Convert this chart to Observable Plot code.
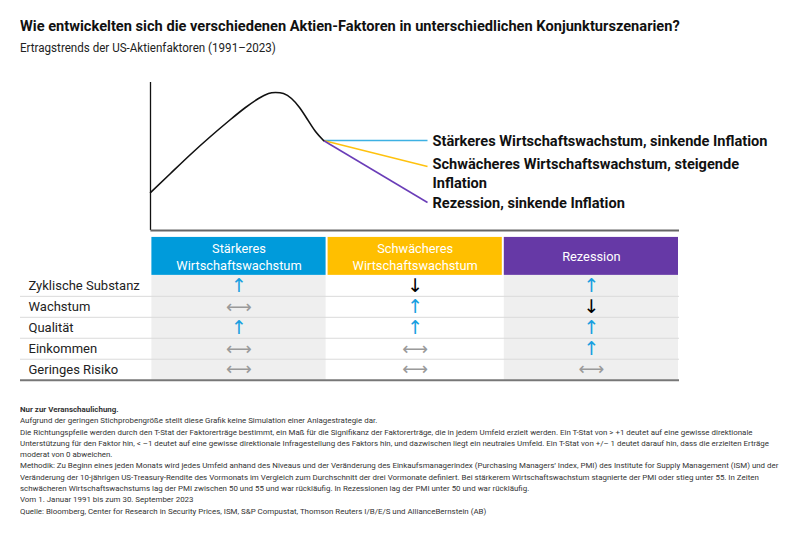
<!DOCTYPE html>
<html><head><meta charset="utf-8">
<script src="https://cdn.jsdelivr.net/npm/d3@7"></script>
<script src="https://cdn.jsdelivr.net/npm/@observablehq/plot@0.6"></script>
<style>
body{margin:0;background:#fff;font-family:Roboto,"Noto Sans",sans-serif;color:#111;width:791px;height:535px;overflow:hidden;position:relative}
.fit{position:absolute;left:20px;white-space:nowrap;transform-origin:0 0}
#title{top:17px;font-weight:700;font-size:15px;line-height:18px}
#subtitle{top:40px;font-size:12.5px;line-height:16px;color:#222}
#curve{position:absolute;left:0;top:70px}
#table{position:absolute;left:0;top:228px}
#notes{position:absolute;left:20px;top:404px;font-size:7.5px;line-height:11.3px;color:#333;white-space:nowrap;transform-origin:0 0}
#notes div{height:11.3px}
svg{overflow:visible}
</style></head>
<body>
<div id="title" class="fit">Wie entwickelten sich die verschiedenen Aktien-Faktoren in unterschiedlichen Konjunkturszenarien?</div>
<div id="subtitle" class="fit">Ertragstrends der US-Aktienfaktoren (1991–2023)</div>
<div id="curve"></div>
<div id="table"></div>
<div id="notes"></div>
<script>
// ---------- data ----------
const curveX = [0, 20, 40, 60, 80, 95, 108, 118, 125, 133, 141, 149, 157, 165, 173];
const curveY = [38, 57, 76, 94, 111, 123, 132, 137, 138, 137, 132, 123, 111, 99, 90];
const scenarioLabels = ["Stärkeres Wirtschaftswachstum, sinkende Inflation", "Schwächeres Wirtschaftswachstum, steigende\nInflation", "Rezession, sinkende Inflation"];
const scenarioEndY = [90, 64, 28];
const scenarioEndX = 277;
const scenarioColors = ["#3db1e3", "#ffc20e", "#6a3db8"];

const columns = ["Stärkeres\nWirtschaftswachstum", "Schwächeres\nWirtschaftswachstum", "Rezession"];
const columnColors = ["#009bdb", "#ffbf00", "#6639a6"];
const columnBg = ["#efefef", "#ffffff", "#efefef"];
const factors = ["Zyklische Substanz", "Wachstum", "Qualität", "Einkommen", "Geringes Risiko"];
const signals = [
  ["up", "down", "up"],
  ["flat", "up", "down"],
  ["up", "up", "up"],
  ["flat", "flat", "up"],
  ["flat", "flat", "flat"]
];
const notes = [
  "Nur zur Veranschaulichung.",
  "Aufgrund der geringen Stichprobengröße stellt diese Grafik keine Simulation einer Anlagestrategie dar.",
  "Die Richtungspfeile werden durch den T-Stat der Faktorerträge bestimmt, ein Maß für die Signifikanz der Faktorerträge, die in jedem Umfeld erzielt werden. Ein T-Stat von > +1 deutet auf eine gewisse direktionale",
  "Unterstützung für den Faktor hin, < –1 deutet auf eine gewisse direktionale Infragestellung des Faktors hin, und dazwischen liegt ein neutrales Umfeld. Ein T-Stat von +/– 1 deutet darauf hin, dass die erzielten Erträge",
  "moderat von 0 abweichen.",
  "Methodik: Zu Beginn eines jeden Monats wird jedes Umfeld anhand des Niveaus und der Veränderung des Einkaufsmanagerindex (Purchasing Managers’ Index, PMI) des Institute for Supply Management (ISM) und der",
  "Veränderung der 10-jährigen US-Treasury-Rendite des Vormonats im Vergleich zum Durchschnitt der drei Vormonate definiert. Bei stärkerem Wirtschaftswachstum stagnierte der PMI oder stieg unter 55. In Zeiten",
  "schwächeren Wirtschaftswachstums lag der PMI zwischen 50 und 55 und war rückläufig. In Rezessionen lag der PMI unter 50 und war rückläufig.",
  "Vom 1. Januar 1991 bis zum 30. September 2023",
  "Quelle: Bloomberg, Center for Research in Security Prices, ISM, S&P Compustat, Thomson Reuters I/B/E/S und AllianceBernstein (AB)"
];

// ---------- curve chart ----------
const curvePts = curveX.map((x, i) => ({x, y: curveY[i]}));
const junction = curvePts[curvePts.length - 1];
const scen = scenarioLabels.map((label, i) => ({
  label, x1: junction.x, y1: junction.y, x2: scenarioEndX, y2: scenarioEndY[i], color: scenarioColors[i]
}));

const labelStyle = {textAnchor: "start", dx: 5, fontSize: 14.6, fontWeight: "bold", fill: "#111", fontFamily: "Roboto"};
const curve = Plot.plot({
  width: 791, height: 165,
  marginLeft: 150, marginRight: 364, marginTop: 12, marginBottom: 5,
  x: {domain: [0, scenarioEndX], axis: null},
  y: {domain: [0, 148], axis: null},
  marks: [
    Plot.ruleX([0], {stroke: "#111", strokeWidth: 1.3}),
    Plot.link(scen, {x1: "x1", y1: "y1", x2: "x2", y2: "y2", stroke: "color", strokeWidth: 1.5}),
    Plot.line(curvePts, {x: "x", y: "y", curve: "natural", stroke: "#111", strokeWidth: 1.6}),
    Plot.text(scen.filter((d, i) => i !== 1), {x: "x2", y: "y2", text: "label", dy: 0.5, ...labelStyle}),
    Plot.text(scen.filter((d, i) => i === 1), {x: "x2", y: "y2", text: "label", dy: 6, lineHeight: 1.32, ...labelStyle})
  ]
});
document.getElementById("curve").append(curve);

// ---------- table ----------
const labelStart = -0.74;          // left edge of the label column, in column units
const headerTop = 0.33, headerBottom = 2.14;
const nRows = factors.length;
const colData = columns.map((name, c) => ({name, c, color: columnColors[c], bg: columnBg[c]}));
const cells = [];
factors.forEach((f, r) => signals[r].forEach((s, c) => cells.push({r, c, s})));
const glyph = {up: "↑", down: "↓", flat: "⟷"};
const glyphColor = {up: "#1a9fe0", down: "#000", flat: "#9a9a9a"};
const glyphSize = {up: 19, down: 19, flat: 18};

const table = Plot.plot({
  width: 791, height: 160,
  marginLeft: 20, marginRight: 112, marginTop: 2, marginBottom: 6,
  x: {domain: [labelStart, columns.length], axis: null},
  y: {domain: [0, headerBottom + nRows + 0.11], reverse: true, axis: null},
  marks: [
    Plot.rect(colData, {x1: "c", x2: d => d.c + 1, y1: headerBottom, y2: headerBottom + nRows, fill: "bg", insetLeft: 1, insetRight: 1}),
    Plot.rect(colData, {x1: "c", x2: d => d.c + 1, y1: headerTop, y2: headerBottom, fill: "color", insetLeft: 1, insetRight: 1}),
    Plot.text(colData, {x: d => d.c + 0.5, y: (headerTop + headerBottom) / 2, text: "name", fill: "white",
      fontSize: 12.8, lineHeight: 1.3, fontFamily: "Roboto", dy: -0.5}),
    Plot.ruleY(d3.range(1, nRows), {y: d => headerBottom + d, x1: labelStart, x2: columns.length, stroke: "#dadada", strokeWidth: 1}),
    Plot.ruleY([0], {x1: 0, x2: columns.length, stroke: "#666", strokeWidth: 2}),
    Plot.ruleY([headerBottom + nRows], {x1: labelStart, x2: columns.length, stroke: "#777", strokeWidth: 2}),
    Plot.text(factors, {x: labelStart, y: (d, i) => headerBottom + i + 0.5, text: d => d, textAnchor: "start", dx: 8,
      fontSize: 13, fill: "#222", fontFamily: "Roboto"}),
    Plot.text(cells, {x: d => d.c + 0.5, y: d => headerBottom + d.r + 0.5, text: d => glyph[d.s], fill: d => glyphColor[d.s],
      fontSize: d => glyphSize[d.s], fontFamily: "DejaVu Sans"})
  ]
});
document.getElementById("table").append(table);

// ---------- notes ----------
const notesEl = document.getElementById("notes");
notes.forEach((t, i) => {
  const div = document.createElement("div");
  div.textContent = t;
  if (i === 0) div.style.fontWeight = "700";
  notesEl.append(div);
});

// fit text blocks horizontally to their widths in the reference
function fitWidth(el, target) {
  const w = el.scrollWidth;
  if (w > 0) el.style.transform = `scaleX(${target / w})`;
}
fitWidth(document.getElementById("title"), 660);
fitWidth(document.getElementById("subtitle"), 256);
{
  const line = notesEl.children[3];
  const r = document.createRange(); r.selectNodeContents(line);
  const w = r.getBoundingClientRect().width;
  notesEl.style.transform = `scaleX(${749 / w})`;
}
</script>
</body></html>
